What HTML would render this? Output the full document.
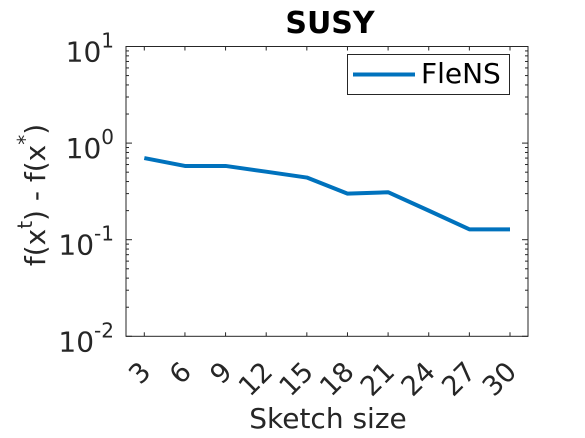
<!DOCTYPE html>
<html><head><meta charset="utf-8"><style>
html,body{margin:0;padding:0;background:#fff;}
svg{display:block;font-family:"DejaVu Sans","Liberation Sans",sans-serif;}
</style></head><body>
<svg id="chart" width="585" height="438" viewBox="0 0 585 438">
<rect width="585" height="438" fill="#fff"/>
<text x="330" y="33" text-anchor="middle" font-size="30" font-weight="bold" fill="#000">SUSY</text>
<g id="axes"></g>
<g id="series"></g>
<g>
<rect x="347.5" y="54.5" width="162" height="40" fill="#fff" stroke="#262626" stroke-width="1"/>
<line x1="353" y1="74.5" x2="415" y2="74.5" stroke="#0072BD" stroke-width="4"/>
<text x="421" y="83" font-size="28" fill="#000">FleNS</text>
</g>
<text x="328" y="428" text-anchor="middle" font-size="28" fill="#262626">Sketch size</text>
<text transform="translate(45,195) rotate(-90)" text-anchor="middle" font-size="28" fill="#262626">f(x<tspan dy="-13" font-size="20">t</tspan><tspan dy="13">) - f(x</tspan><tspan dy="-13" font-size="20">*</tspan><tspan dy="13">)</tspan></text>
</svg>
<script>
const categories=[3,6,9,12,15,18,21,24,27,30];
const flensValues=[0.70,0.58,0.58,0.506,0.44,0.30,0.31,0.20,0.128,0.128];
const yTickExps=[1,0,-1,-2];
const L=126,R=528,T=46.5,B=336.3;
const xs=v=>144.3+(v-3)*(510-144.3)/27;
const ys=v=>T+(1-Math.log10(v))*(B-T)/3;
const NS="http://www.w3.org/2000/svg";
const ax=document.getElementById('axes');
function mk(tag,attrs,parent){const e=document.createElementNS(NS,tag);for(const k in attrs)e.setAttribute(k,attrs[k]);parent.appendChild(e);return e;}
const box=mk('rect',{x:L,y:T,width:R-L,height:B-T,fill:'none',stroke:'#262626','stroke-width':1},ax);


categories.forEach(c=>{
  const x=xs(c);
  const t1=mk('line',{x1:x,y1:B,x2:x,y2:B-4,stroke:'#262626'},ax);
  
  
  const t2=mk('line',{x1:x,y1:T,x2:x,y2:T+4,stroke:'#262626'},ax);
  
  
  const lb=mk('text',{transform:`translate(${x+8},${B+37}) rotate(-45)`,'text-anchor':'end','font-size':27,fill:'#262626'},ax);
  lb.textContent=c;
  
  
});
yTickExps.forEach(e=>{
  const y=ys(Math.pow(10,e));
  [[L,L+6],[R,R-6]].forEach(p=>{
    const t=mk('line',{x1:p[0],y1:y,x2:p[1],y2:y,stroke:'#262626'},ax);
    
    
  });
  if(e>-2){for(let m=2;m<=9;m++){const yy=ys(Math.pow(10,e-1)*m);
    [[L,L+3],[R,R-3]].forEach(p=>{const t=mk('line',{x1:p[0],y1:yy,x2:p[1],y2:yy,stroke:'#262626'},ax);
    
    });}}
  const lb=mk('text',{x:L-12,y:y+15,'text-anchor':'end','font-size':28,fill:'#262626'},ax);
  lb.innerHTML='10<tspan dy="-14" font-size="20">'+e+'</tspan>';
  
  
});
const pts=categories.map((c,i)=>xs(c)+','+ys(flensValues[i])).join(' ');
const pl=mk('polyline',{points:pts,fill:'none',stroke:'#0072BD','stroke-width':4,'stroke-linejoin':'round'},document.getElementById('series'));


</script>
</body></html>
